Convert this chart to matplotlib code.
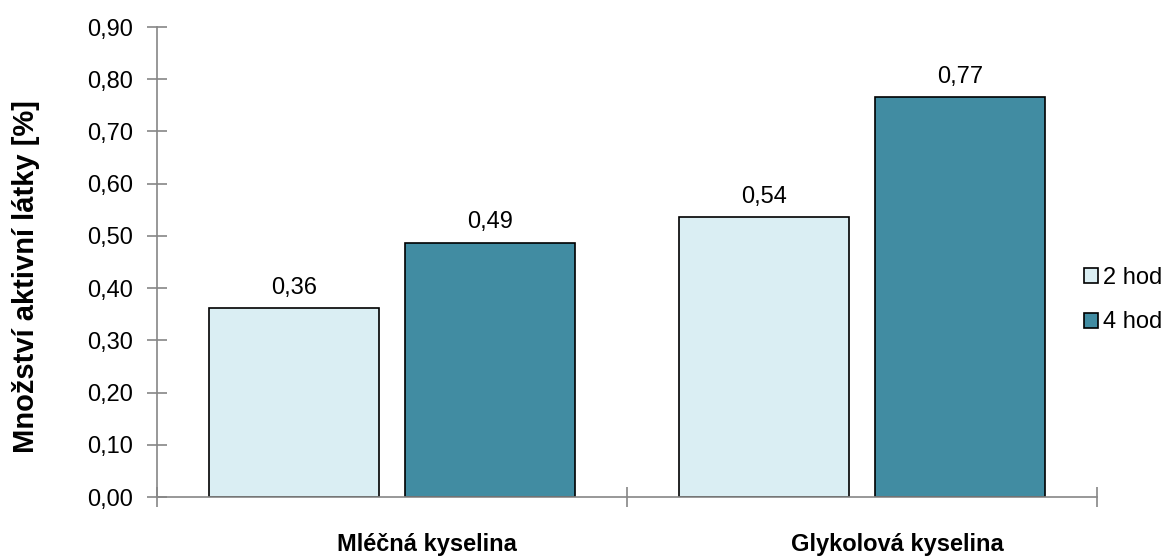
import numpy as np
import matplotlib.pyplot as plt
import matplotlib.transforms as mtransforms

categories = ['Mléčná kyselina', 'Glykolová kyselina']
series_names = ['2 hod', '4 hod']
values_2h = [0.362, 0.536]
values_4h = [0.487, 0.766]
yticks = [0.0, 0.1, 0.2, 0.3, 0.4, 0.5, 0.6, 0.7, 0.8, 0.9]

plt.rcParams['font.family'] = ['Liberation Sans', 'DejaVu Sans']

fig = plt.figure(figsize=(11.74, 5.56), dpi=100)
ax = fig.add_axes([0.1337, 0.1061, 0.8007, 0.8453])

x = np.arange(len(categories))
w = 0.362
off = 0.208
colors = ['#DAEEF3', '#418CA2']

b1 = ax.bar(x - off, values_2h, w, color=colors[0], edgecolor='black', linewidth=1.2, label=series_names[0])
b2 = ax.bar(x + off, values_4h, w, color=colors[1], edgecolor='black', linewidth=1.2, label=series_names[1])

for bars in (b1, b2):
    for r in bars:
        h = r.get_height()
        ax.text(r.get_x() + r.get_width() / 2, h + 0.018, f'{h:.2f}'.replace('.', ','),
                ha='center', va='bottom', fontsize=17)

ax.set_xlim(-0.5, 1.5)
ax.set_ylim(0, 0.9)
ax.set_yticks(yticks)
ax.set_yticklabels([f'{t:.2f}'.replace('.', ',') for t in yticks], fontsize=17)

ax.set_xticks([-0.5, 0.5, 1.5])
ax.set_xticklabels([])
ax.set_xticks(x, minor=True)
ax.set_xticklabels(categories, minor=True, fontsize=17, fontweight='bold')
ax.tick_params(axis='x', which='minor', length=0, pad=26)
ax.tick_params(axis='x', which='major', direction='inout', length=14, color='#868686', width=1.2)
ax.tick_params(axis='y', direction='inout', length=14, color='#868686', width=1.2, pad=10)

# category labels sit a bit right of the group centres in the original
for lab in ax.get_xticklabels(minor=True):
    lab.set_transform(lab.get_transform() + mtransforms.ScaledTranslation(0.35, 0, fig.dpi_scale_trans))

for s in ['top', 'right']:
    ax.spines[s].set_visible(False)
for s in ['left', 'bottom']:
    ax.spines[s].set_color('#868686')
    ax.spines[s].set_linewidth(1.2)

ax.set_ylabel('Množství aktivní látky [%]', fontsize=21, fontweight='bold')
ax.yaxis.set_label_coords(-0.124, 0.47)

fig.legend(handles=[b1, b2], loc='center left', bbox_to_anchor=(1084 / 1174, 0.46), frameon=False,
           fontsize=17, handlelength=0.6, handleheight=0.6, handletextpad=0.2, labelspacing=0.95,
           borderpad=0, borderaxespad=0)

fig.savefig('out.png', dpi=100)
